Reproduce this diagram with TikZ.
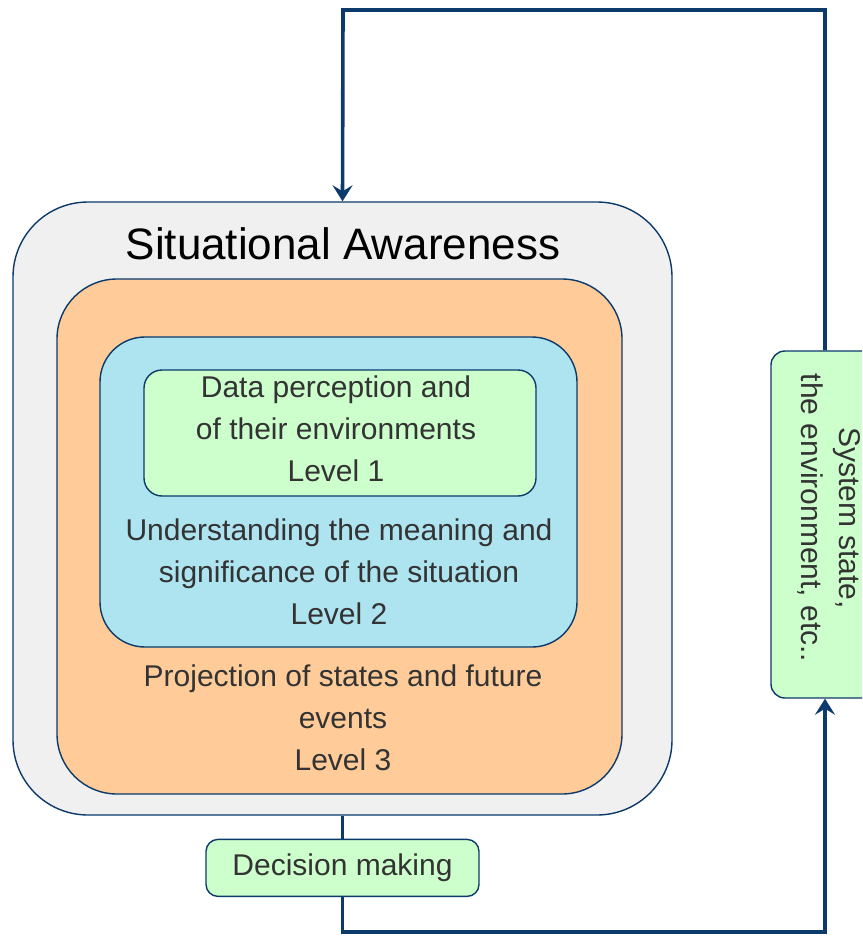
\documentclass[tikz,border=0pt]{standalone}
\usepackage{fontspec}
\setmainfont{Liberation Sans}
\usepackage{xcolor}
\usetikzlibrary{arrows.meta, positioning}

\definecolor{navy}{HTML}{0B3A6B}
\definecolor{sagrey}{HTML}{F0F0F0}
\definecolor{saorange}{HTML}{FFCC99}
\definecolor{sablue}{HTML}{AEE3F0}
\definecolor{sagreen}{HTML}{CCFFCC}
\definecolor{txt}{HTML}{333333}

\begin{document}
\begin{tikzpicture}[x=1pt, y=-1pt,
    layer/.style={draw=navy, line width=1.4pt, rounded corners=#1},
    lbl/.style={text=txt, align=center, font=\fontsize{30}{42}\selectfont},
    flow/.style={draw=navy, line width=3.6pt},
    arr/.style={flow, -{Stealth[length=16pt, width=20pt, inset=6pt]}}]
    \useasboundingbox (0,0) rectangle (862,936);
    \clip (0,0) rectangle (862,936);

    % nested awareness levels
    \node[layer=75pt, fill=sagrey, minimum width=659pt, minimum height=613pt] (sa) at (342.5,508.5) {};
    \node[layer=60pt, fill=saorange, minimum width=565pt, minimum height=515pt] (l3) at (339.5,536.5) {};
    \node[layer=45pt, fill=sablue, minimum width=477pt, minimum height=310pt] (l2) at (338.5,492) {};
    \node[layer=18pt, fill=sagreen, minimum width=392pt, minimum height=126pt] (l1) at (340,433) {};

    \node[font=\fontsize{44}{50}\selectfont] (title) at (343,244) {Situational Awareness};
    \node[lbl] (t1) at (336,429) {Data perception and\\of their environments\\Level 1};
    \node[lbl] (t2) at (339,572) {Understanding the meaning and\\significance of the situation\\Level 2};
    \node[lbl] (t3) at (343,718) {Projection of states and future\\events\\Level 3};

    % decision and system boxes
    \node[layer=12pt, fill=sagreen, lbl, minimum width=273pt, minimum height=57pt, below=23pt of sa] (dec) {Decision making};
    \node[layer=14pt, fill=sagreen, minimum width=108pt, minimum height=347pt] (sys) at (825,524.5) {};
    \node[lbl, rotate=-90, inner sep=1pt, font=\fontsize{30}{38}\selectfont] (systxt) at (829,518) {System state,\\the environment, etc..};

    % feedback loop
    \coordinate (bot) at (825,932);
    \coordinate (top) at (343,10);
    \draw[flow] (sa.south) -- (dec.north);
    \draw[arr] (dec.south) |- (bot) -- (sys.south);
    \draw[arr] (sys.north) |- (top) -- (sa.north);
\end{tikzpicture}
\end{document}
